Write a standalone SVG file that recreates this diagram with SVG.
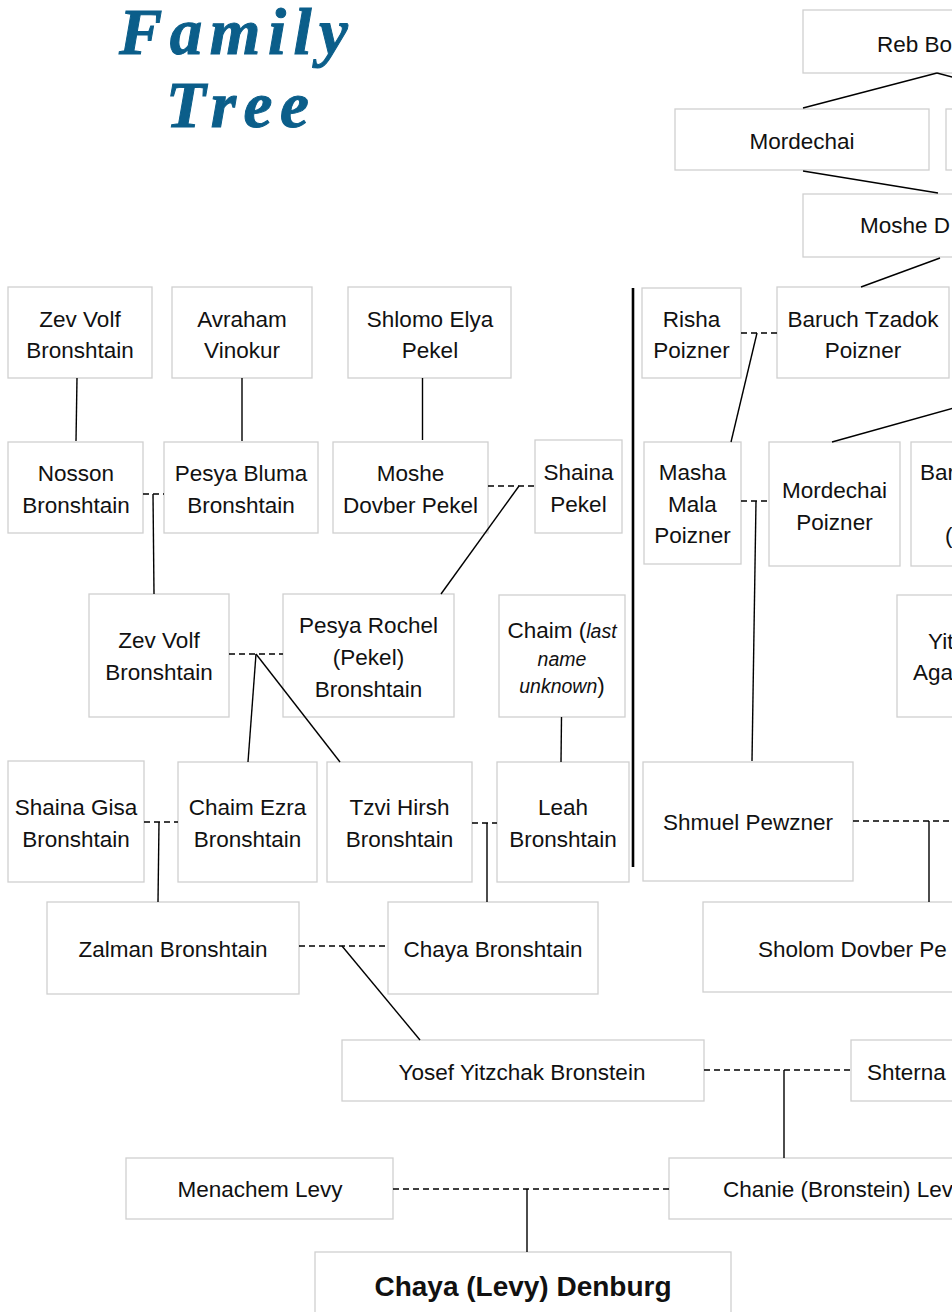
<svg xmlns="http://www.w3.org/2000/svg" width="952" height="1312" viewBox="0 0 952 1312">
<style>
.b{fill:#fff;stroke:#d0d0d0;stroke-width:1.3}
.t{font-family:"Liberation Sans",Arial,sans-serif;font-size:22.5px;fill:#111;text-anchor:middle}
.s{text-anchor:start}
.i{font-style:italic;font-size:19.5px}
.bd{font-weight:bold;font-size:28px}
.c{stroke:#000;stroke-width:1.4;fill:none}
.d{stroke:#000;stroke-width:1.3;stroke-dasharray:6 4;fill:none}
.title{font-family:"Liberation Serif","Times New Roman",serif;font-weight:bold;font-style:italic;font-size:65px;fill:#0b5e8a;stroke:#0b5e8a;stroke-width:1;letter-spacing:7.5px}
</style>
<rect width="952" height="1312" fill="#fff"/>
<g id="title">
<text class="title" x="119" y="54">Family</text>
<text class="title" x="166" y="127">Tree</text>
</g>

<g id="reb-bo"><rect class="b" x="803" y="10" width="200" height="63"/><text class="t s" x="877" y="52">Reb Bo</text></g>
<g id="mordechai"><rect class="b" x="675" y="109" width="254" height="61"/><text class="t" x="802" y="149">Mordechai</text></g>
<g id="node-r1b"><rect class="b" x="946" y="109" width="100" height="61"/></g>
<g id="moshe-d"><rect class="b" x="803" y="194" width="200" height="63"/><text class="t s" x="860" y="233">Moshe D</text></g>

<g id="zev-volf-1"><rect class="b" x="8" y="287" width="144" height="91"/><text class="t" x="80" y="327">Zev Volf</text><text class="t" x="80" y="358">Bronshtain</text></g>
<g id="avraham"><rect class="b" x="172" y="287" width="140" height="91"/><text class="t" x="242" y="327">Avraham</text><text class="t" x="242" y="358">Vinokur</text></g>
<g id="shlomo"><rect class="b" x="348" y="287" width="163" height="91"/><text class="t" x="430" y="327">Shlomo Elya</text><text class="t" x="430" y="358">Pekel</text></g>
<g id="risha"><rect class="b" x="642" y="288" width="99" height="90"/><text class="t" x="691.5" y="327">Risha</text><text class="t" x="691.5" y="358">Poizner</text></g>
<g id="baruch-tzadok"><rect class="b" x="777" y="287" width="172" height="91"/><text class="t" x="863" y="327">Baruch Tzadok</text><text class="t" x="863" y="358">Poizner</text></g>

<g id="nosson"><rect class="b" x="8" y="442" width="135" height="91"/><text class="t" x="76" y="481">Nosson</text><text class="t" x="76" y="513">Bronshtain</text></g>
<g id="pesya-bluma"><rect class="b" x="164" y="442" width="154" height="91"/><text class="t" x="241" y="481">Pesya Bluma</text><text class="t" x="241" y="513">Bronshtain</text></g>
<g id="moshe-dovber"><rect class="b" x="333" y="442" width="155" height="91"/><text class="t" x="410.5" y="481">Moshe</text><text class="t" x="410.5" y="513">Dovber Pekel</text></g>
<g id="shaina-pekel"><rect class="b" x="535" y="440" width="87" height="93"/><text class="t" x="578.5" y="480">Shaina</text><text class="t" x="578.5" y="512">Pekel</text></g>
<g id="masha"><rect class="b" x="644" y="442" width="97" height="122"/><text class="t" x="692.5" y="480">Masha</text><text class="t" x="692.5" y="512">Mala</text><text class="t" x="692.5" y="543">Poizner</text></g>
<g id="mordechai-poizner"><rect class="b" x="769" y="442" width="131" height="124"/><text class="t" x="834.5" y="498">Mordechai</text><text class="t" x="834.5" y="530">Poizner</text></g>
<g id="bar"><rect class="b" x="911" y="442" width="100" height="124"/><text class="t s" x="920" y="480">Bar</text><text class="t s" x="945" y="543">(</text></g>

<g id="zev-volf-2"><rect class="b" x="89" y="594" width="140" height="123"/><text class="t" x="159" y="648">Zev Volf</text><text class="t" x="159" y="680">Bronshtain</text></g>
<g id="pesya-rochel"><rect class="b" x="283" y="594" width="171" height="123"/><text class="t" x="368.5" y="633">Pesya Rochel</text><text class="t" x="368.5" y="665">(Pekel)</text><text class="t" x="368.5" y="697">Bronshtain</text></g>
<g id="chaim"><rect class="b" x="499" y="595" width="126" height="122"/><text class="t" x="562" y="638">Chaim (<tspan class="i">last</tspan></text><text class="t i" x="562" y="666">name</text><text class="t" x="562" y="693"><tspan class="i">unknown</tspan>)</text></g>
<g id="yit"><rect class="b" x="897" y="595" width="100" height="122"/><text class="t s" x="928" y="649">Yit</text><text class="t s" x="913" y="680">Aga</text></g>

<g id="shaina-gisa"><rect class="b" x="8" y="761" width="136" height="121"/><text class="t" x="76" y="815">Shaina Gisa</text><text class="t" x="76" y="847">Bronshtain</text></g>
<g id="chaim-ezra"><rect class="b" x="178" y="762" width="139" height="120"/><text class="t" x="247.5" y="815">Chaim Ezra</text><text class="t" x="247.5" y="847">Bronshtain</text></g>
<g id="tzvi-hirsh"><rect class="b" x="327" y="762" width="145" height="120"/><text class="t" x="399.5" y="815">Tzvi Hirsh</text><text class="t" x="399.5" y="847">Bronshtain</text></g>
<g id="leah"><rect class="b" x="497" y="762" width="132" height="120"/><text class="t" x="563" y="815">Leah</text><text class="t" x="563" y="847">Bronshtain</text></g>
<g id="shmuel"><rect class="b" x="643" y="762" width="210" height="119"/><text class="t" x="748" y="830">Shmuel Pewzner</text></g>

<g id="zalman"><rect class="b" x="47" y="902" width="252" height="92"/><text class="t" x="173" y="957">Zalman Bronshtain</text></g>
<g id="chaya-bronshtain"><rect class="b" x="388" y="902" width="210" height="92"/><text class="t" x="493" y="957">Chaya Bronshtain</text></g>
<g id="sholom"><rect class="b" x="703" y="902" width="300" height="90"/><text class="t s" x="758" y="957">Sholom Dovber Pe</text></g>

<g id="yosef"><rect class="b" x="342" y="1040" width="362" height="61"/><text class="t" x="522" y="1080">Yosef Yitzchak Bronstein</text></g>
<g id="shterna"><rect class="b" x="851" y="1040" width="150" height="61"/><text class="t s" x="867" y="1080">Shterna</text></g>

<g id="menachem"><rect class="b" x="126" y="1158" width="267" height="61"/><text class="t" x="260" y="1197">Menachem Levy</text></g>
<g id="chanie"><rect class="b" x="669" y="1158" width="330" height="61"/><text class="t s" x="723" y="1197">Chanie (Bronstein) Lev</text></g>

<g id="chaya-denburg"><rect class="b" x="315" y="1252" width="416" height="80"/><text class="t bd" x="523" y="1296">Chaya (Levy) Denburg</text></g>

<g id="connectors">
<line class="c" x1="937" y1="73" x2="803" y2="108"/>
<line class="c" x1="937" y1="73" x2="990" y2="87"/>
<line class="c" x1="803" y1="171" x2="938" y2="193"/>
<line class="c" x1="940" y1="258" x2="861" y2="287"/>
<line x1="633" y1="288" x2="633" y2="867" stroke="#000" stroke-width="2.6"/>
<line class="c" x1="77" y1="378" x2="76" y2="441"/>
<line class="c" x1="242" y1="378" x2="242" y2="441"/>
<line class="c" x1="422.5" y1="378" x2="422.5" y2="440"/>
<line class="d" x1="741" y1="333" x2="777" y2="333"/>
<line class="c" x1="757" y1="333" x2="731" y2="442"/>
<line class="d" x1="143" y1="494" x2="164" y2="494"/>
<line class="c" x1="153" y1="494" x2="154" y2="594"/>
<line class="d" x1="488" y1="486" x2="535" y2="486"/>
<line class="c" x1="519" y1="486" x2="441" y2="594"/>
<line class="d" x1="741" y1="501" x2="769" y2="501"/>
<line class="c" x1="756" y1="501" x2="752" y2="761"/>
<line class="c" x1="990" y1="398" x2="832" y2="442"/>
<line class="d" x1="229" y1="654" x2="283" y2="654"/>
<line class="c" x1="256" y1="654" x2="248" y2="762"/>
<line class="c" x1="256" y1="654" x2="340" y2="762"/>
<line class="c" x1="561.5" y1="717" x2="561" y2="762"/>
<line class="d" x1="144" y1="822" x2="178" y2="822"/>
<line class="c" x1="159" y1="822" x2="158" y2="902"/>
<line class="d" x1="472" y1="823" x2="497" y2="823"/>
<line class="c" x1="487" y1="823" x2="487" y2="902"/>
<line class="d" x1="853" y1="821" x2="952" y2="821"/>
<line class="c" x1="929" y1="821" x2="929" y2="902"/>
<line class="d" x1="299" y1="946" x2="388" y2="946"/>
<line class="c" x1="342" y1="946" x2="420" y2="1040"/>
<line class="d" x1="704" y1="1070" x2="851" y2="1070"/>
<line class="c" x1="784" y1="1070" x2="784" y2="1158"/>
<line class="d" x1="393" y1="1189" x2="669" y2="1189"/>
<line class="c" x1="527" y1="1189" x2="527" y2="1252"/>
</g>
</svg>
